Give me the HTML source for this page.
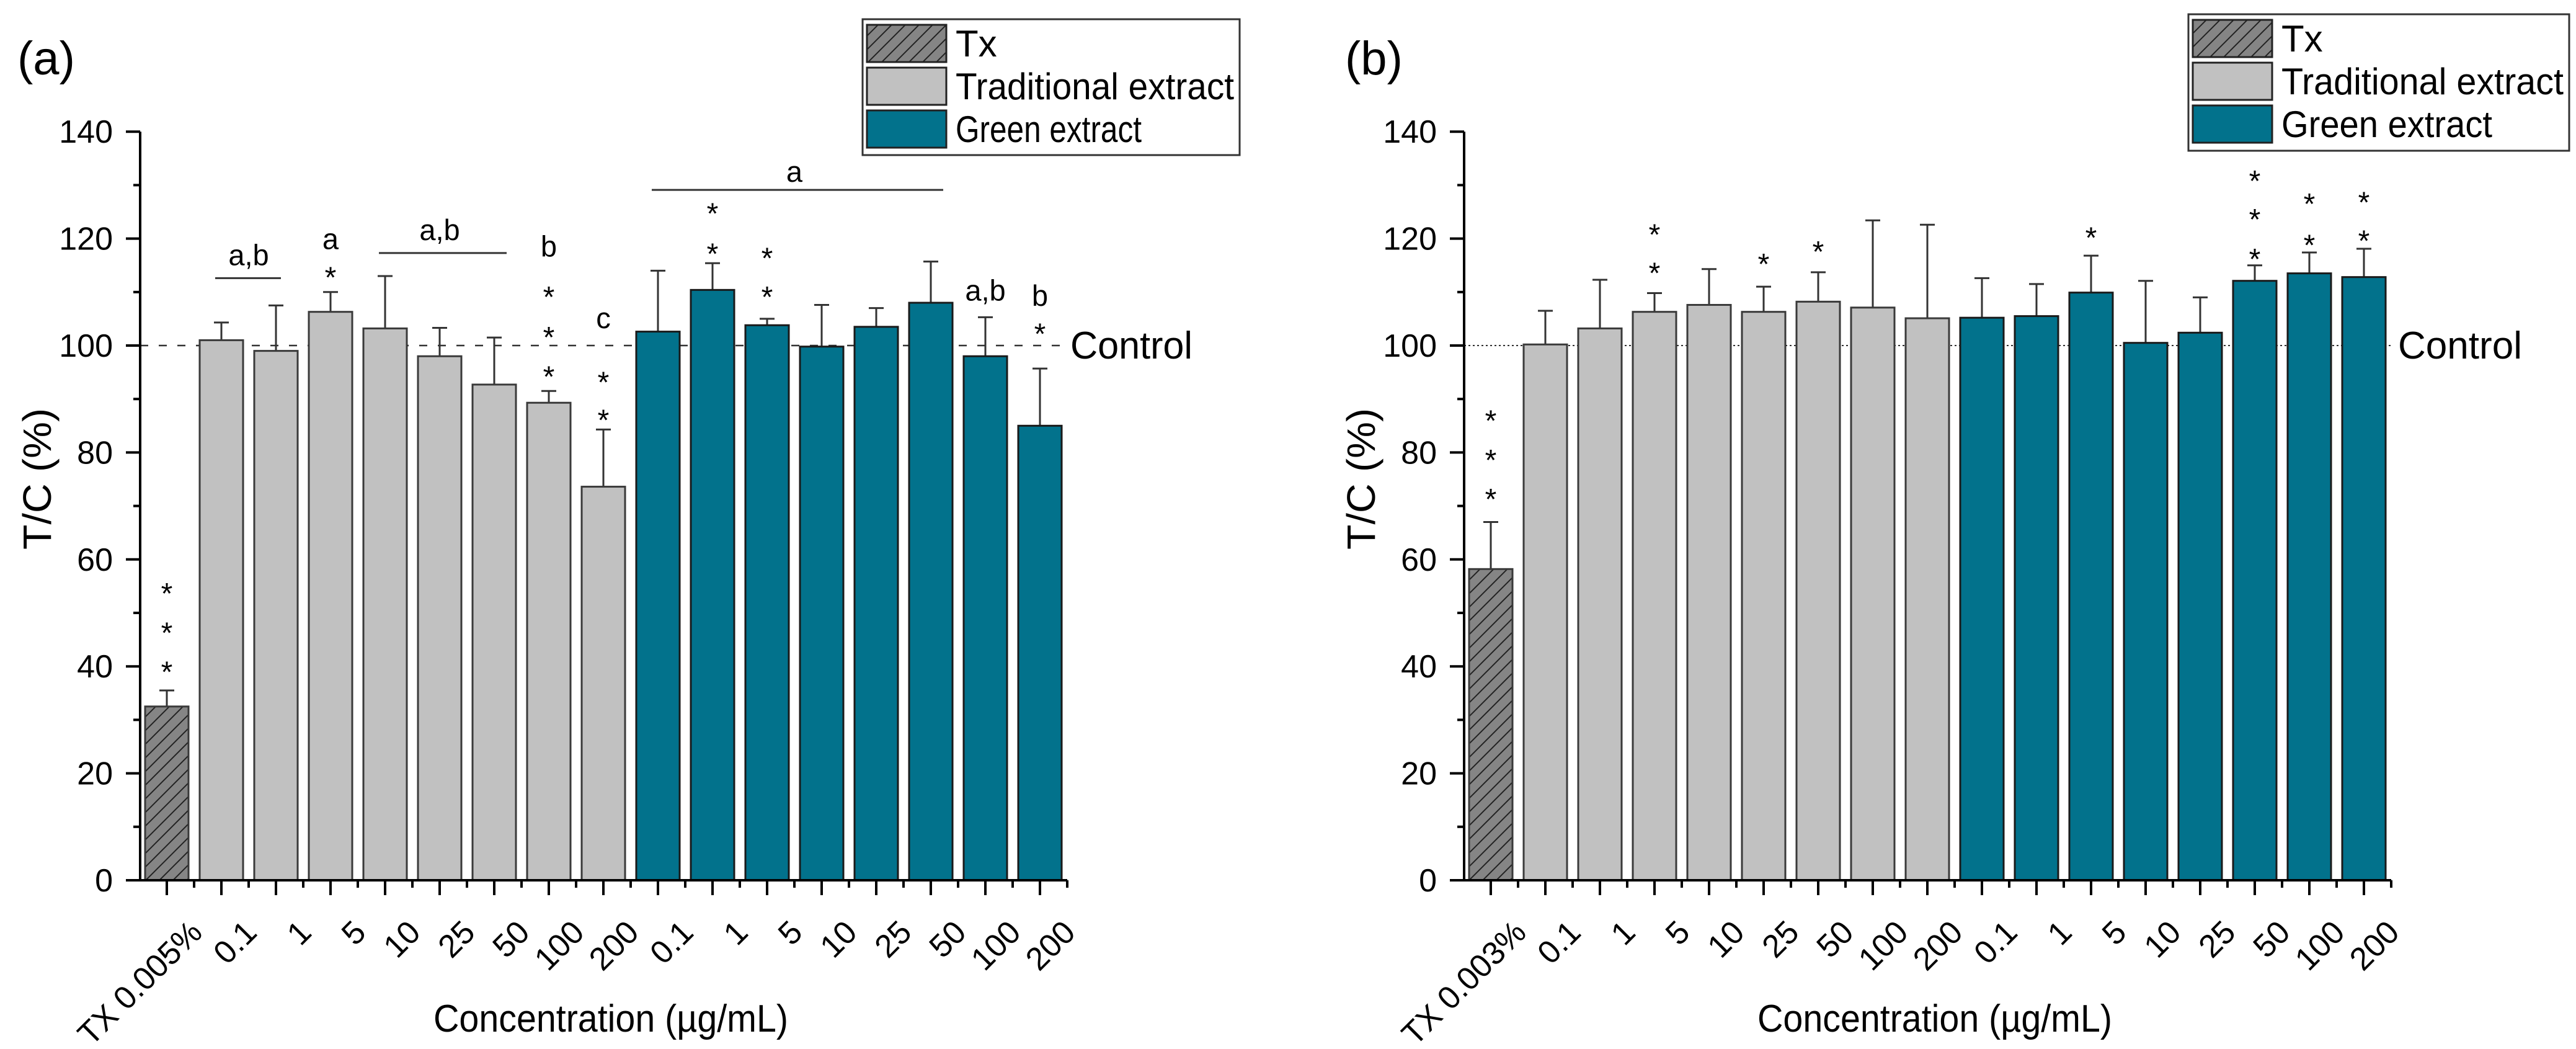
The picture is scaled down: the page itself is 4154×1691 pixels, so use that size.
<!DOCTYPE html>
<html><head><meta charset="utf-8"><title>T/C chart</title>
<style>html,body{margin:0;padding:0;background:#fff}svg{display:block}text{font-family:"Liberation Sans",Arial,sans-serif;fill:#000}</style>
</head><body>
<svg id="chart" width="4154" height="1691" viewBox="0 0 4154 1691" xmlns="http://www.w3.org/2000/svg">
<defs>
<pattern id="hatch" patternUnits="userSpaceOnUse" width="22" height="22" patternTransform="translate(0,4)">
<rect width="22" height="22" fill="#858585"/>
<path d="M-2,24 L24,-2 M-13,13 L13,-13 M9,35 L35,9" stroke="#222" stroke-width="2"/>
</pattern>
</defs>
</svg>
<script>
const categories = ["TX","0.1","1","5","10","25","50","100","200","0.1","1","5","10","25","50","100","200"];
const groups = ["tx","trad","trad","trad","trad","trad","trad","trad","trad","green","green","green","green","green","green","green","green"];
const valuesA = [32.5,101,99,106.3,103.2,98,92.7,89.3,73.6,102.6,110.4,103.8,99.8,103.5,108,98,85];
const errTopA = [35.5,104.3,107.5,110,113,103.3,101.5,91.5,84.3,114,115.4,105,107.6,107,115.7,105.3,95.7];
const valuesB = [58.2,100.2,103.2,106.3,107.6,106.3,108.2,107.1,105.1,105.2,105.5,109.9,100.5,102.4,112.1,113.5,112.8];
const errTopB = [67,106.5,112.3,109.8,114.3,111,113.7,123.4,122.6,112.6,111.5,116.8,112.1,109,115,117.4,118.1];
const yTicks = [0,20,40,60,80,100,120,140];
// star annotations: [category index, y value]
const starsA = [[0,54.9],[0,47.5],[0,40.2],[3,114],[7,110.3],[7,102.8],[7,95.4],[8,94.4],[8,87.3],[10,125.9],[10,118.4],[11,117.6],[11,110.3],[16,103.4]];
const lettersA = [[1.5,117,"a,b"],[3,120,"a"],[5,121.7,"a,b"],[7,118.6,"b"],[8,105.2,"c"],[11.5,132.6,"a"],[15,110.4,"a,b"],[16,109.4,"b"]];
const bracketsA = [[1,2,112.6],[4,6,117.3],[9,14,129.1]];
const starsB = [[0,87.2],[0,79.8],[0,72.5],[3,122],[3,114.8],[5,116.5],[6,118.8],[11,121.4],[14,132],[14,124.8],[14,117.4],[15,127.7],[15,120],[16,128],[16,120.8]];

const NS = "http://www.w3.org/2000/svg";
const svg = document.getElementById("chart");
function el(tag, attrs, parent, txt){
  const e = document.createElementNS(NS, tag);
  for (const k in attrs) e.setAttribute(k, attrs[k]);
  if (txt !== undefined) e.textContent = txt;
  (parent || svg).appendChild(e);
  return e;
}
const Y0 = 1419, PPU = 8.62, STEP = 88, BARW = 70;
const fills = {tx:"url(#hatch)", trad:"#c1c1c1", green:"#02728c"};

function drawPanel(ox, key, vals, errs, stars, letters, brackets, opts){
  const g = el("g", {});
  
  
  const axX = 226 + ox;
  const x0 = 269 + ox;
  const xs = i => x0 + i * STEP;
  const ys = v => Y0 - v * PPU;
  const xEnd = xs(categories.length - 1) + STEP/2;

  const cl = el("line", {x1:axX, x2:opts.ctrlEnd + ox, y1:ys(100), y2:ys(100), stroke:"#333", "stroke-width":opts.dashW, "stroke-dasharray":opts.dash}, g);
  
  
  const ct = el("text", {x:opts.ctrlX + ox, y:578, "font-size":62, textLength:opts.ctrlLen, lengthAdjust:"spacingAndGlyphs"}, g, "Control");
  
  

  vals.forEach((v, i) => {
    const cx = xs(i);
    const eb = el("path", {d:`M${cx},${ys(v)} V${ys(errs[i])} M${cx-12},${ys(errs[i])} H${cx+12}`, stroke:"#333", "stroke-width":3, fill:"none"}, g);
    
    
    const r = el("rect", {x:cx-BARW/2, y:ys(v), width:BARW, height:v*PPU, fill:fills[groups[i]], stroke:groups[i]==="green"?"#1a1a1a":"#3a3a3a", "stroke-width":3}, g);
    
    
  });

  const ax = el("path", {d:`M${axX},${ys(140)} V${Y0} H${xEnd}`, stroke:"#000", "stroke-width":4, fill:"none"}, g);
  
  
  yTicks.forEach(t => {
    const tk = el("line", {x1:axX-23, x2:axX, y1:ys(t), y2:ys(t), stroke:"#000", "stroke-width":4}, g);
    
    
    if (t < 140) {
      const mt = el("line", {x1:axX-11, x2:axX, y1:ys(t+10), y2:ys(t+10), stroke:"#000", "stroke-width":4}, g);
      
      
    }
    const tl = el("text", {x:axX-44, y:ys(t)+18, "font-size":52, "text-anchor":"end"}, g, String(t));
    
    
  });
  categories.forEach((c, i) => {
    const cx = xs(i);
    const tk = el("line", {x1:cx, x2:cx, y1:Y0, y2:Y0+24, stroke:"#000", "stroke-width":4}, g);
    
    
    const mt = el("line", {x1:cx+STEP/2, x2:cx+STEP/2, y1:Y0, y2:Y0+12, stroke:"#000", "stroke-width":4}, g);
    
    
    const lab = i === 0 ? opts.txLabel : c;
    const tx = cx + 60, ty = 1506;
    const tl = el("text", {x:tx, y:ty, "font-size":52, "text-anchor":"end", transform:`rotate(-45 ${tx} ${ty})`}, g, lab);
    
    
  });

  stars.forEach(s => {
    const st = el("text", {x:xs(s[0]), y:ys(s[1])+27, "font-size":48, "text-anchor":"middle"}, g, "*");
    
    
  });
  letters.forEach(l => {
    const lt = el("text", {x:xs(l[0]), y:ys(l[1])+17, "font-size":47, "text-anchor":"middle"}, g, l[2]);
    
    
  });
  brackets.forEach(b => {
    const bl = el("line", {x1:xs(b[0])-10, x2:xs(b[1])+ (b[1]-b[0]>1?20:8), y1:ys(b[2]), y2:ys(b[2]), stroke:"#333", "stroke-width":3}, g);
    
    
  });

  const yt = el("text", {x:0, y:0, "font-size":64, "text-anchor":"middle", textLength:228, lengthAdjust:"spacingAndGlyphs", transform:`translate(${82+ox},772) rotate(-90)`}, g, "T/C (%)");
  
  
  const xt = el("text", {x:985+ox, y:1663, "font-size":62, "text-anchor":"middle", textLength:572, lengthAdjust:"spacingAndGlyphs"}, g, "Concentration (µg/mL)");
  
  
  const pl = el("text", {x:28+ox+opts.plDx, y:120, "font-size":76}, g, opts.panelLabel);
  
  

  const L = opts.leg;
  const lg = el("g", {}, g);
  
  
  const box = el("rect", {x:L.x, y:L.y, width:L.w, height:L.h, fill:"#fff", stroke:"#333", "stroke-width":3}, lg);
  
  
  const names = ["Tx","Traditional extract","Green extract"];
  const keys = ["tx","trad","green"];
  const lens = [null, L.tlen, L.glen];
  names.forEach((n, k) => {
    const ry = L.y + 9 + k * 69;
    const sw = el("rect", {x:L.x+7, y:ry, width:128, height:60, fill:fills[keys[k]], stroke:"#222", "stroke-width":3}, lg);
    
    
    const at = {x:L.x+150, y:ry+51, "font-size":60};
    if (lens[k]) { at.textLength = lens[k]; at.lengthAdjust = "spacingAndGlyphs"; }
    const t = el("text", at, lg, n);
    
    
  });
}

drawPanel(0, "a", valuesA, errTopA, starsA, lettersA, bracketsA, {
  dash:"13,17", dashW:2.5, ctrlEnd:1724, ctrlX:1726, ctrlLen:197, txLabel:"TX 0.005%", panelLabel:"(a)", plDx:0,
  leg:{x:1391, y:31, w:608, h:219, tlen:449, glen:300}
});
drawPanel(2135, "b", valuesB, errTopB, starsB, [], [], {
  dash:"3,4", dashW:2, ctrlEnd:1724, ctrlX:1732, ctrlLen:200, txLabel:"TX 0.003%", panelLabel:"(b)", plDx:6,
  leg:{x:3529, y:23, w:614, h:220, tlen:455, glen:340}
});
</script>
</body></html>
